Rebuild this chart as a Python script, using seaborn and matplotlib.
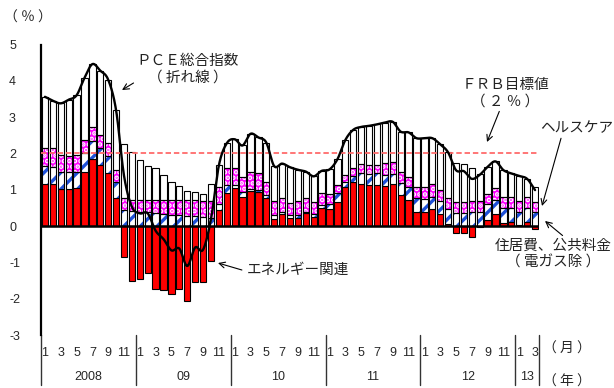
import numpy as np
import matplotlib
matplotlib.use("Agg")
import matplotlib.pyplot as plt
import seaborn as sns

# Monthly contributions to US PCE inflation (y/y, % points), Jan 2008 - Mar 2013
energy = [1.17, 1.16, 1.03, 1.03, 1.06, 1.50, 1.86, 1.68, 1.47, 0.76, -0.86, -1.52,
          -1.47, -1.30, -1.72, -1.76, -1.87, -1.72, -2.06, -1.54, -1.54, -0.96, 0.43, 0.92,
          1.04, 0.81, 0.96, 0.95, 0.76, 0.19, 0.33, 0.21, 0.23, 0.35, 0.25, 0.49,
          0.47, 0.67, 1.08, 1.20, 1.15, 1.13, 1.13, 1.11, 1.15, 0.85, 0.73, 0.40,
          0.40, 0.46, 0.32, 0.07, -0.19, -0.19, -0.30, -0.02, 0.18, 0.32, 0.09, 0.11,
          0.04, 0.12, -0.08]
housing = [0.48, 0.47, 0.46, 0.46, 0.44, 0.50, 0.47, 0.46, 0.46, 0.46, 0.43, 0.42,
           0.40, 0.39, 0.35, 0.32, 0.30, 0.30, 0.28, 0.27, 0.24, 0.21, 0.17, 0.21,
           0.08, 0.14, 0.06, 0.05, 0.09, 0.11, 0.06, 0.09, 0.07, 0.04, 0.08, 0.08,
           0.15, 0.23, 0.12, 0.18, 0.32, 0.30, 0.33, 0.29, 0.28, 0.33, 0.35, 0.36,
           0.34, 0.35, 0.38, 0.40, 0.37, 0.37, 0.38, 0.38, 0.42, 0.39, 0.40, 0.38,
           0.35, 0.37, 0.38]
healthcare = [0.51, 0.51, 0.47, 0.45, 0.45, 0.37, 0.41, 0.36, 0.36, 0.32, 0.34, 0.31,
              0.32, 0.32, 0.37, 0.41, 0.43, 0.43, 0.45, 0.44, 0.45, 0.47, 0.48, 0.46,
              0.47, 0.41, 0.48, 0.45, 0.36, 0.40, 0.37, 0.33, 0.40, 0.37, 0.34, 0.34,
              0.25, 0.22, 0.21, 0.21, 0.24, 0.25, 0.22, 0.34, 0.33, 0.30, 0.28, 0.32,
              0.34, 0.34, 0.29, 0.29, 0.30, 0.30, 0.31, 0.31, 0.27, 0.33, 0.32, 0.32,
              0.31, 0.32, 0.29]
other = [1.40, 1.31, 1.42, 1.54, 1.65, 1.71, 1.72, 1.78, 1.74, 1.65, 1.48, 1.32,
         1.10, 0.94, 0.87, 0.67, 0.47, 0.37, 0.23, 0.24, 0.20, 0.47, 0.59, 0.69,
         0.80, 0.86, 1.04, 0.99, 1.09, 0.95, 0.96, 0.99, 0.85, 0.74, 0.70, 0.61,
         0.69, 0.72, 0.96, 1.06, 1.02, 1.08, 1.12, 1.11, 1.11, 1.12, 1.22, 1.34,
         1.34, 1.27, 1.26, 1.27, 1.06, 1.03, 0.91, 0.74, 0.76, 0.74, 0.73, 0.64,
         0.68, 0.49, 0.40]
month_labels = ["1", "", "3", "", "5", "", "7", "", "9", "", "11", ""] * 5 + ["1", "", "3"]
year_labels = ["2008", "09", "10", "11", "12", "13"]
year_starts = [0, 12, 24, 36, 48, 60]
fed_target = 2.0

sns.set_style("white")
plt.rcParams["font.family"] = ["Liberation Sans", "Noto Sans CJK JP"]
plt.rcParams["axes.unicode_minus"] = False
plt.rcParams["hatch.linewidth"] = 2.4

W, H = 614, 388
fig = plt.figure(figsize=(W / 100, H / 100), dpi=100)
ax = fig.add_axes([41 / W, 1 - 335 / H, 498 / W, 290.5 / H])

n = len(energy)
x = np.arange(n)
e = np.array(energy)
h = np.array(housing)
c = np.array(healthcare)
o = np.array(other)
base = np.clip(e, 0, None)
bw = 0.8
edge = dict(fill=False, edgecolor="black", linewidth=0.8, zorder=3)

# energy
ax.bar(x, e, width=bw, color="#FF0000", edgecolor="black", linewidth=0.8, zorder=2)
# housing & utilities (hatched)
ax.bar(x, h, bottom=base, width=bw, facecolor="white", edgecolor="#1E50D8",
       hatch="//", linewidth=0, zorder=2)
ax.bar(x, h, bottom=base, width=bw, **edge)
# healthcare (dotted magenta)
ax.bar(x, c, bottom=base + h, width=bw, facecolor="#FF00FF", edgecolor="white",
       hatch="...", linewidth=0, zorder=2)
ax.bar(x, c, bottom=base + h, width=bw, **edge)
# everything else
ax.bar(x, o, bottom=base + h + c, width=bw, facecolor="white", edgecolor="black",
       linewidth=0.8, zorder=2)

# headline PCE = sum of contributions, drawn as a smoothed curve
pce = e + h + c + o


def catmull_rom(xs, ys, steps=12):
    pts = np.column_stack([xs, ys]).astype(float)
    P = np.vstack([2 * pts[0] - pts[1], pts, 2 * pts[-1] - pts[-2]])
    t = np.linspace(0, 1, steps, endpoint=False)[:, None]
    segs = []
    for i in range(1, len(P) - 2):
        p0, p1, p2, p3 = P[i - 1], P[i], P[i + 1], P[i + 2]
        segs.append(0.5 * (2 * p1 + (-p0 + p2) * t + (2 * p0 - 5 * p1 + 4 * p2 - p3) * t ** 2
                           + (-p0 + 3 * p1 - 3 * p2 + p3) * t ** 3))
    segs.append(pts[-1:])
    return np.vstack(segs)


curve = catmull_rom(x, pce)
sns.lineplot(x=curve[:, 0], y=curve[:, 1], sort=False, estimator=None, color="black",
             linewidth=1.7, ax=ax, zorder=5)

ax.axhline(fed_target, color="#FF6B6B", linewidth=1.3, dashes=(3.0, 1.6), zorder=4)
ax.axhline(0, color="black", linewidth=1.8, zorder=4)

ax.set_xlim(-0.5, n - 0.5)
ax.set_ylim(-3, 5)
for s in ["top", "right", "bottom"]:
    ax.spines[s].set_visible(False)
ax.spines["left"].set_color("black")
ax.spines["left"].set_linewidth(1.6)
ax.set_yticks(range(-3, 6))
ax.set_yticklabels([str(v) for v in range(-3, 6)])
ax.tick_params(axis="y", direction="in", length=4, width=1, color="black",
               labelsize=9, pad=23)
for lab in ax.get_yticklabels():
    lab.set_horizontalalignment("left")
ax.set_xticks(x)
ax.set_xticklabels(month_labels)
ax.tick_params(axis="x", length=0, labelsize=9, pad=9)
ax.set_xlabel("")
ax.set_ylabel("")

# year separators and year labels under the month labels
xt = ax.get_xaxis_transform()
for s in [0] + year_starts[1:] + [n]:
    ax.plot([s - 0.5, s - 0.5], [0, -0.172], transform=xt, color="#333333",
            linewidth=1.0, clip_on=False)
ends = year_starts[1:] + [n]
for lab, s0, s1 in zip(year_labels, year_starts, ends):
    ax.text((s0 + s1 - 1) / 2, -0.145, lab, transform=xt, ha="center", va="center",
            fontsize=9)


def fp(px, py):
    return (px, H - py)


cjk = ["Noto Sans CJK JP"]
txt = dict(fontsize=10.5, color="#222222", family=cjk)
fig.text(28 / W, 1 - 18 / H, "（ ％ ）", ha="center", va="center", fontsize=10,
         family=cjk)
fig.text(567 / W, 1 - 349 / H, "（ 月 ）", ha="center", va="center", fontsize=10,
         family=cjk)
fig.text(567 / W, 1 - 382 / H, "（ 年 ）", ha="center", va="center", fontsize=10,
         family=cjk)

arrow = dict(arrowstyle="->", color="black", linewidth=0.8, shrinkA=0, shrinkB=0)
ax.annotate("ＰＣＥ総合指数\n（ 折れ線 ）", xy=fp(122, 90), xycoords="figure pixels",
            xytext=fp(188, 69), textcoords="figure pixels", ha="center", va="center",
            linespacing=1.2, arrowprops=dict(arrow, relpos=(0.12, 0.35)), **txt)
ax.annotate("ＦＲＢ目標値\n（ ２ ％ ）", xy=fp(487, 142), xycoords="figure pixels",
            xytext=fp(505, 93), textcoords="figure pixels", ha="center", va="center",
            linespacing=1.2, arrowprops=dict(arrow, relpos=(0.45, 0.0)), **txt)
ax.annotate("ヘルスケア", xy=fp(542, 206), xycoords="figure pixels",
            xytext=fp(540, 128), textcoords="figure pixels", ha="left", va="center",
            arrowprops=dict(arrow, relpos=(0.3, 0.0)), **txt)
ax.annotate("住居費、公共料金\n（ 電ガス除 ）", xy=fp(545, 221), xycoords="figure pixels",
            xytext=fp(553, 254), textcoords="figure pixels", ha="center", va="center",
            linespacing=1.2, arrowprops=dict(arrow, relpos=(0.6, 1.05)), **txt)
ax.annotate("エネルギー関連", xy=fp(218, 263), xycoords="figure pixels",
            xytext=fp(247, 270), textcoords="figure pixels", ha="left", va="center",
            arrowprops=dict(arrow, relpos=(-0.05, 0.5)), **txt)

fig.savefig("out.png", dpi=100)
